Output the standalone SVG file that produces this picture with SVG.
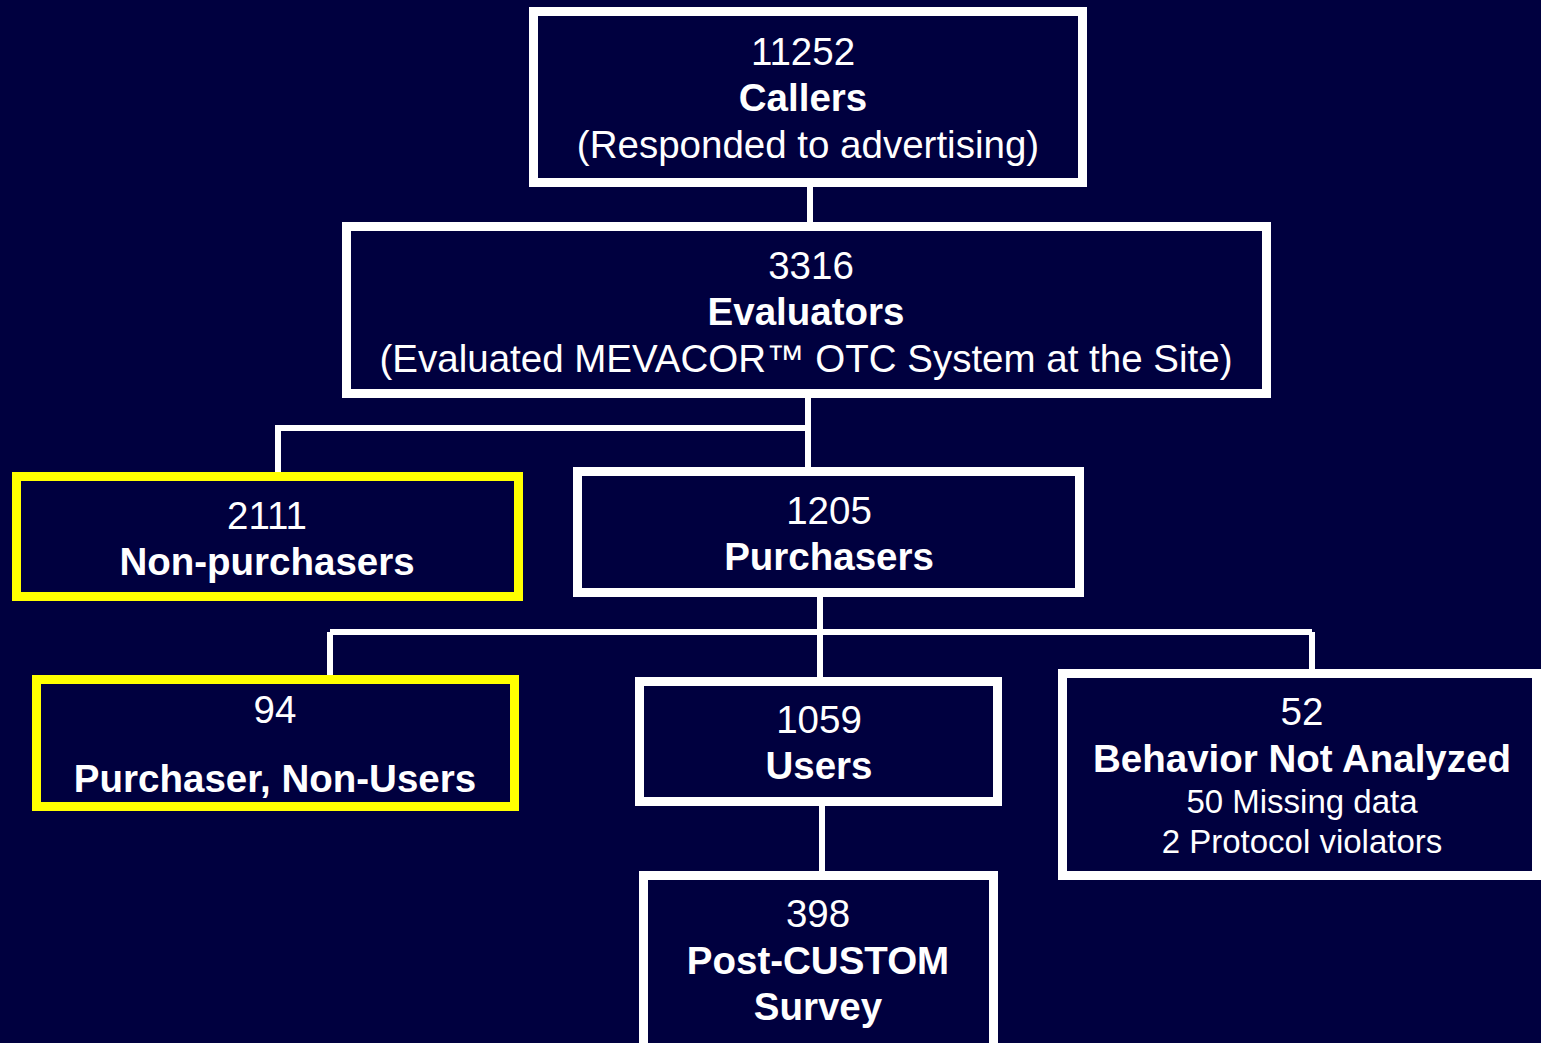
<svg xmlns="http://www.w3.org/2000/svg" width="1541" height="1043" viewBox="0 0 1541 1043">
<style>
.box{fill:#00003F;stroke:#FFFFFF;stroke-width:9}
.hl{stroke:#FFFF00}
.conn{fill:none;stroke:#FFFFFF;stroke-width:6}
text{font-family:"Liberation Sans",Arial,sans-serif;fill:#FFFFFF;text-anchor:middle;font-size:38.5px}
.b{font-weight:bold}
.s{font-size:33px}
</style>
<rect x="0" y="0" width="1541" height="1043" fill="#00003F"/>
<g id="connectors">
<path class="conn" d="M810 187V222"/>
<path class="conn" d="M808 398V467M808 428H278V472"/>
<path class="conn" d="M820 597V677M330 632H1312M330 632V675M1312 632V669"/>
<path class="conn" d="M822 806V871"/>
</g>
<g id="callers">
<rect class="box" x="533.5" y="11.5" width="549" height="171"/>
<text x="803" y="65">11252</text>
<text x="803" y="111" class="b">Callers</text>
<text x="808" y="158">(Responded to advertising)</text>
</g>
<g id="evaluators">
<rect class="box" x="346.5" y="226.5" width="920" height="167"/>
<text x="811" y="279">3316</text>
<text x="806" y="325" class="b">Evaluators</text>
<text x="806" y="372">(Evaluated MEVACOR™ OTC System at the Site)</text>
</g>
<g id="nonpurchasers">
<rect class="box hl" x="16.5" y="476.5" width="502" height="120"/>
<text x="267" y="529">2111</text>
<text x="267" y="575" class="b">Non-purchasers</text>
</g>
<g id="purchasers">
<rect class="box" x="577.5" y="471.5" width="502" height="121"/>
<text x="829" y="524">1205</text>
<text x="829" y="570" class="b">Purchasers</text>
</g>
<g id="nonusers">
<rect class="box hl" x="36.5" y="679.5" width="478" height="127"/>
<text x="275" y="723">94</text>
<text x="275" y="792" class="b">Purchaser, Non-Users</text>
</g>
<g id="users">
<rect class="box" x="639.5" y="681.5" width="358" height="120"/>
<text x="819" y="733">1059</text>
<text x="819" y="779" class="b">Users</text>
</g>
<g id="notanalyzed">
<rect class="box" x="1062.5" y="673.5" width="474" height="202"/>
<text x="1302" y="725">52</text>
<text x="1302" y="772" class="b">Behavior Not Analyzed</text>
<text x="1302" y="813" class="s">50 Missing data</text>
<text x="1302" y="853" class="s">2 Protocol violators</text>
</g>
<g id="survey">
<rect class="box" x="643.5" y="875.5" width="350" height="180"/>
<text x="818" y="927">398</text>
<text x="818" y="974" class="b">Post-CUSTOM</text>
<text x="818" y="1020" class="b">Survey</text>
</g>
</svg>
